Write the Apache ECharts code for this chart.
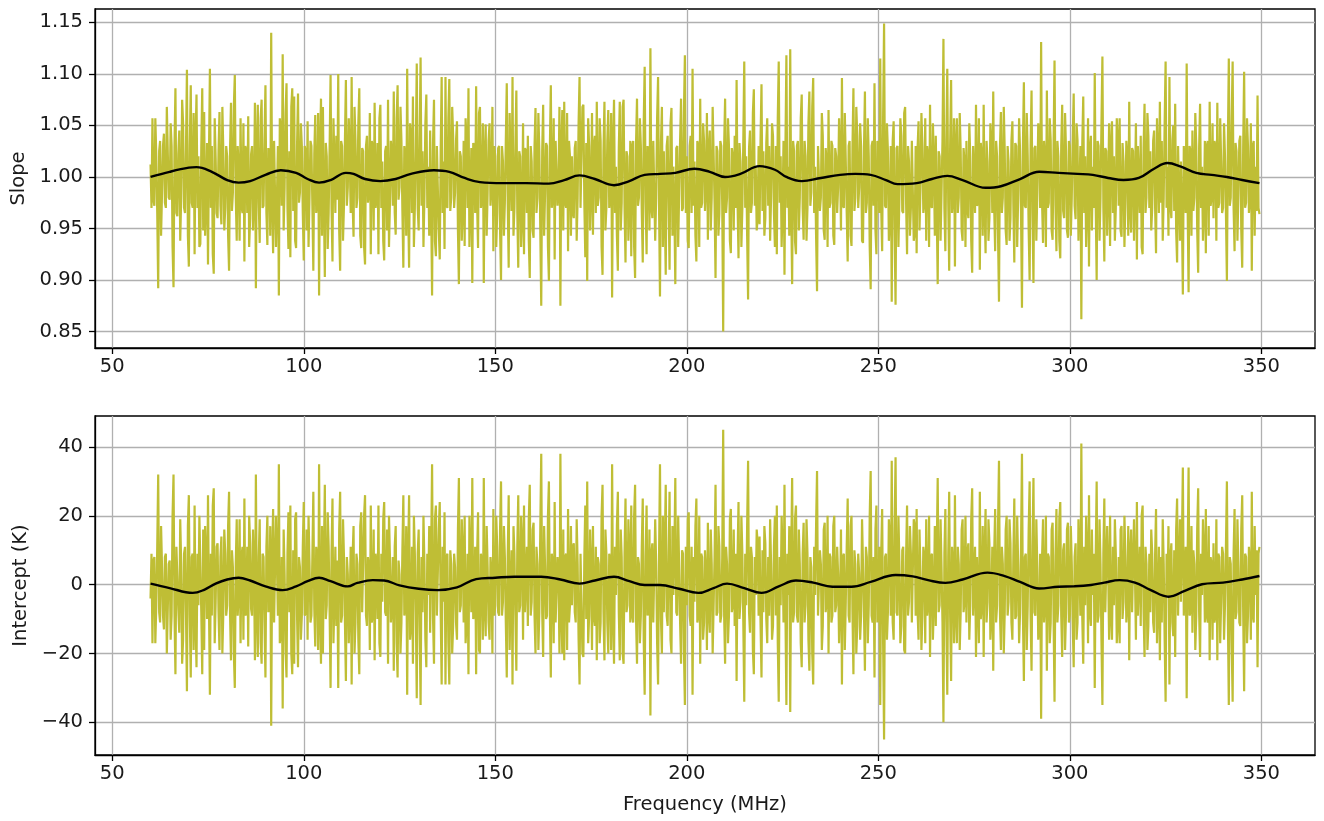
<!DOCTYPE html>
<html>
<head>
<meta charset="utf-8">
<script src="https://cdn.jsdelivr.net/npm/echarts@6/dist/echarts.min.js"></script>
<style>
html,body{margin:0;padding:0;background:#fff;}
#chart{width:1324px;height:821px;}
</style>
</head>
<body>
<div id="chart"></div>
<script>
// Frequency grid of the noisy series: samples at 60, 60.5, ... 349.5 MHz,
// plus in-between samples at 60.25, 60.75, ... 349.25 MHz
const freqStart = 60;
const freqStep = 0.5;

// Slope values at the main samples
const slopeValues = [
1.012,1.057,0.972,1.020,0.892,1.035,0.985,1.042,0.970,1.068,0.978,1.030,0.893,1.086,0.962,1.045,0.980,1.052,0.965,1.104,
0.913,1.089,0.970,0.925,1.080,1.020,0.935,1.086,1.063,0.975,0.915,1.105,1.030,0.906,1.018,0.960,1.063,0.954,1.025,0.970,
1.020,0.909,1.072,0.985,1.099,0.938,1.010,1.057,0.965,0.918,1.025,1.059,0.960,1.030,0.980,0.892,1.070,0.936,1.075,0.972,
1.089,0.934,1.020,1.140,0.926,1.035,0.980,0.885,1.045,1.119,0.990,1.091,0.930,0.922,1.086,1.078,0.931,1.081,0.985,1.030,
0.919,1.025,1.054,0.980,1.030,0.909,1.060,0.975,0.885,1.076,1.068,0.903,1.020,0.965,1.099,0.918,1.015,1.040,1.100,0.909,
1.030,0.973,1.094,0.990,1.020,1.097,0.942,1.035,0.980,1.086,0.931,1.025,0.915,1.040,0.985,0.925,1.030,1.072,0.980,0.925,
1.070,1.015,0.919,1.030,1.075,0.975,1.020,1.083,0.944,1.089,0.990,1.035,0.912,1.020,1.105,0.912,1.040,1.078,0.970,1.110,
0.948,1.116,1.025,0.980,1.080,1.010,1.045,0.885,1.075,0.923,1.030,0.920,1.097,1.015,1.097,0.970,1.095,0.980,1.040,0.985,
1.054,0.896,1.020,0.970,0.933,1.035,1.086,0.975,0.897,1.030,1.088,0.931,1.068,0.980,0.897,1.051,0.985,1.052,0.990,0.928,
1.020,0.965,1.030,0.900,1.015,0.975,1.091,0.912,1.010,1.097,0.970,1.084,0.912,1.020,0.960,0.925,1.025,1.040,0.902,1.015,
0.941,1.067,0.980,1.025,0.875,1.070,0.985,1.030,0.899,1.089,0.980,0.920,1.035,0.990,0.875,1.065,1.073,0.970,0.928,1.020,
1.020,0.960,1.035,0.980,1.097,0.970,1.070,0.922,0.899,1.030,0.985,0.944,1.040,1.073,0.980,1.035,0.905,1.073,0.970,1.065,
0.980,0.883,1.075,1.010,0.909,1.073,0.975,1.075,0.917,1.020,0.970,0.923,1.035,0.902,1.076,0.980,1.030,0.917,1.107,0.925,
1.020,1.125,0.960,1.035,0.980,1.097,0.884,1.068,1.025,0.905,1.040,0.910,1.067,1.010,0.896,1.030,0.985,1.076,0.970,1.118,
1.020,0.931,1.040,1.105,1.015,0.918,1.030,1.076,0.975,1.035,0.990,0.939,1.045,0.980,1.068,0.902,1.025,0.965,1.030,0.850,
1.076,0.980,1.030,0.926,1.020,1.040,1.094,0.921,1.015,0.970,1.112,1.020,0.881,1.045,0.975,1.085,1.010,0.960,0.954,1.090,
1.025,0.960,1.057,1.030,0.980,1.040,0.932,0.925,1.112,1.020,0.970,0.905,1.118,1.010,1.124,0.896,1.025,0.925,1.035,0.980,
1.080,0.939,1.020,0.970,1.083,0.985,1.096,1.010,0.889,1.030,0.980,1.040,0.939,1.015,1.065,0.975,1.030,0.934,1.020,0.990,
1.020,1.096,0.970,1.015,0.918,1.035,0.933,1.086,0.980,1.040,0.990,1.030,0.936,1.083,0.975,1.020,0.891,1.035,1.091,0.925,
1.020,1.115,0.928,1.149,0.970,1.025,0.960,0.879,1.054,0.876,1.030,0.980,1.040,0.965,1.068,0.925,1.015,0.970,1.035,0.945,
0.926,1.054,0.990,1.030,0.975,0.938,1.020,1.070,0.970,1.015,1.040,0.896,1.020,0.985,1.134,0.928,1.105,0.909,1.094,0.980,
0.913,1.057,0.980,1.025,0.938,1.015,1.035,0.960,1.020,0.907,1.030,1.070,0.975,0.910,1.020,1.070,0.926,1.015,0.960,1.030,
1.083,0.928,1.020,0.879,1.063,0.980,1.025,0.934,1.015,0.960,1.054,0.917,1.030,0.980,1.025,0.873,1.092,0.970,1.020,0.900,
1.084,0.897,1.030,0.985,1.040,1.131,0.936,1.020,1.084,0.975,1.035,0.939,1.113,0.928,1.020,0.921,1.070,0.960,1.025,0.941,
1.030,0.980,1.081,0.959,1.035,0.985,0.862,1.078,1.020,0.970,0.913,1.040,1.010,1.101,0.900,1.030,0.980,1.117,0.918,1.025,
0.985,0.933,1.054,1.020,0.970,1.035,1.057,0.942,1.015,0.975,1.020,1.073,0.946,1.025,0.990,0.920,1.030,1.040,0.925,1.071,
0.980,1.040,1.025,0.970,1.045,0.926,1.020,1.073,1.035,0.980,1.112,1.010,1.097,0.960,1.050,1.071,0.917,1.030,1.015,0.886,
1.030,1.110,0.888,1.025,1.045,0.980,1.030,0.907,1.071,1.010,0.970,0.926,1.035,1.073,0.980,0.960,1.030,1.072,0.975,1.015,
0.970,1.020,0.899,1.115,0.980,1.112,0.928,1.025,0.985,1.040,0.912,1.102,0.975,1.030,0.980,0.909,1.035,1.010,1.079,0.964
];
// Slope values at the in-between samples
const slopeMid = [
0.970,0.978,1.057,0.965,1.025,0.943,1.030,0.975,1.068,0.980,1.052,0.932,1.028,0.965,1.022,0.938,1.075,0.970,1.026,0.943,
1.030,0.975,1.062,1.035,0.970,0.932,1.028,0.948,0.943,1.033,1.020,0.970,0.925,1.057,0.965,1.025,0.972,1.068,0.948,1.030,
0.943,1.025,0.967,1.068,0.980,1.030,0.938,0.972,1.052,1.030,0.965,0.932,1.022,0.948,1.072,1.028,0.975,1.057,0.970,1.035,
0.965,1.028,0.943,0.975,1.035,0.932,1.030,1.057,0.972,0.948,1.062,0.970,1.025,1.068,0.967,0.938,1.030,0.975,1.052,0.965,
1.030,0.948,0.932,1.035,0.972,1.022,0.965,1.062,1.030,0.943,0.975,1.033,0.930,1.028,0.970,1.057,0.965,0.978,0.948,1.035,
0.938,1.035,0.972,1.057,0.965,0.975,1.068,0.970,1.052,0.943,1.028,0.932,1.030,0.975,1.062,1.035,0.948,0.970,1.033,1.057,
0.970,0.938,1.025,0.948,0.932,1.035,0.972,0.965,1.057,0.978,1.068,0.967,1.030,0.943,0.972,1.052,0.965,0.932,1.028,0.970,
1.035,0.972,0.932,1.052,0.970,0.943,0.975,1.033,0.938,1.030,0.948,1.025,0.965,0.930,0.972,1.057,0.967,1.068,0.970,1.035,
0.948,1.025,0.938,1.035,1.057,0.970,0.932,1.028,1.033,0.965,0.975,1.062,0.970,1.052,1.022,0.943,1.035,0.972,1.068,1.030,
0.932,1.028,0.948,1.030,0.943,1.035,0.975,1.062,0.967,0.943,1.030,0.965,1.025,0.932,1.052,1.028,0.965,0.938,1.030,0.948,
1.030,0.965,1.062,0.948,1.025,0.943,1.033,0.932,1.028,0.970,1.057,1.035,0.972,1.068,1.030,0.948,0.975,1.062,1.035,0.943,
0.965,1.028,0.938,1.052,0.970,1.068,0.975,1.033,1.057,0.948,1.062,1.030,0.965,0.972,1.057,0.932,1.025,0.948,1.035,0.970,
1.062,1.030,0.965,0.943,1.028,0.948,1.068,0.970,1.025,0.938,1.035,1.030,0.932,1.033,0.972,1.057,0.965,1.052,0.975,1.030,
0.948,0.970,1.035,0.938,1.057,0.972,1.033,0.932,0.965,1.030,0.975,1.052,0.943,0.970,1.028,0.932,1.035,0.967,1.062,0.965,
0.938,1.030,0.965,0.972,0.943,1.035,0.932,0.970,1.052,0.967,1.062,1.028,0.948,1.068,0.975,1.030,0.943,1.035,0.972,1.030,
0.965,1.057,0.938,1.028,0.948,0.970,0.975,1.033,0.932,1.035,0.970,0.943,1.028,0.965,1.062,0.972,0.948,1.030,1.035,0.967,
0.943,1.033,0.972,0.938,1.052,0.965,1.030,1.057,0.975,0.932,1.035,1.028,0.970,0.943,0.972,1.035,0.938,1.030,0.948,1.057,
0.970,1.035,0.938,1.052,0.972,1.068,0.965,0.943,1.030,0.967,1.062,0.948,1.028,0.932,0.970,1.035,0.943,1.028,0.965,1.057,
0.948,0.972,1.062,0.965,1.030,0.943,1.028,0.967,1.068,0.970,1.052,0.938,1.025,0.965,1.057,0.932,1.030,0.972,0.948,1.035,
0.965,0.970,1.057,0.972,1.052,0.938,1.030,1.035,0.948,1.028,0.932,1.057,0.967,1.062,0.975,1.030,0.943,1.035,0.938,1.030,
1.028,0.948,1.062,0.965,1.057,1.030,0.932,0.972,1.052,0.943,0.967,1.025,0.938,1.035,0.970,1.033,0.975,1.030,0.965,1.057,
1.030,0.965,1.062,0.948,1.028,0.932,0.970,1.052,0.938,1.030,0.965,0.972,1.057,1.033,0.943,0.970,1.035,0.938,1.052,0.965,
0.970,1.035,0.943,1.028,0.965,1.068,0.948,1.030,0.938,1.035,0.972,1.033,0.932,1.057,0.965,1.030,0.972,1.062,0.948,1.030,
0.965,1.028,0.938,1.052,0.970,0.975,1.035,0.932,0.970,1.057,0.948,1.030,0.972,1.035,0.938,1.030,0.967,1.062,0.948,1.035,
0.943,1.035,0.972,1.052,0.938,1.030,1.033,0.965,0.932,1.057,1.028,0.948,0.970,0.975,1.035,0.938,1.052,0.970,1.028,0.943,
1.052,1.030,0.965,0.938,1.057,0.972,0.948,1.033,0.932,1.035,0.943,0.970,1.028,0.938,1.052,1.030,0.965,0.932,1.028,0.965,
1.062,0.970,0.948,1.035,0.972,1.057,0.965,0.975,0.938,1.052,0.970,0.943,0.972,1.035,0.967,0.948,1.030,0.938,0.965,1.030,
0.965,0.972,1.030,0.943,0.967,1.062,0.948,1.028,0.970,0.938,1.035,1.030,0.943,0.972,1.052,1.035,0.938,0.970,1.057,0.965,
1.052,0.965,1.030,0.972,1.057,0.970,1.033,0.938,1.035,0.948,1.028,0.970,1.057,0.965,1.052,1.030,0.943,0.967,0.970
];

// Intercept values in K at the main samples
const interceptValues = [
-4,-17,8,-6,32,-11,5,-13,9,-20,7,-9,32,-26,11,-14,6,-16,11,-31,
26,-27,9,23,-24,-6,20,-26,-19,8,26,-32,-9,28,-5,12,-19,14,-8,9,
-6,27,-22,5,-30,19,-3,-17,11,25,-8,-18,12,-9,6,32,-21,19,-23,8,
-27,20,-6,-41,22,-11,6,35,-14,-36,3,-27,21,23,-26,-23,21,-24,5,-9,
24,-8,-16,6,-9,27,-18,8,35,-23,-20,29,-6,11,-30,25,-5,-12,-30,27,
-9,8,-28,3,-6,-29,17,-11,6,-26,21,-8,26,-12,5,23,-9,-22,6,23,
-21,-5,24,-9,-23,8,-6,-25,17,-27,3,-11,26,-6,-32,26,-12,-23,9,-33,
16,-35,-8,6,-24,-3,-14,35,-23,23,-9,24,-29,-5,-29,9,-29,6,-12,5,
-16,31,-6,9,20,-11,-26,8,31,-9,-26,21,-20,6,31,-15,5,-16,3,22,
-6,11,-9,30,-5,8,-27,26,-3,-29,9,-25,26,-6,12,23,-8,-12,29,-5,
18,-20,6,-8,38,-21,5,-9,30,-27,6,24,-11,3,38,-20,-22,9,22,-6,
-6,12,-11,6,-29,9,-21,23,30,-9,5,17,-12,-22,6,-11,29,-22,9,-20,
6,35,-23,-3,27,-22,8,-23,25,-6,9,23,-11,29,-23,6,-9,25,-32,23,
-6,-38,12,-11,6,-29,35,-20,-8,29,-12,27,-20,-3,31,-9,5,-23,9,-35,
-6,21,-12,-32,-5,25,-9,-23,8,-11,3,18,-14,6,-20,29,-8,11,-9,45,
-23,6,-9,22,-6,-12,-28,24,-5,9,-34,-6,36,-14,8,-26,-3,12,14,-27,
-8,12,-17,-9,6,-12,20,23,-34,-6,9,29,-35,-3,-37,31,-8,23,-11,6,
-24,18,-6,9,-25,5,-29,-3,33,-9,6,-12,18,-5,-20,8,-9,20,-6,3,
-6,-29,9,-5,25,-11,20,-26,6,-12,3,-9,19,-25,8,-6,33,-11,-27,23,
-6,-35,22,-45,9,-8,12,36,-16,37,-9,6,-12,11,-20,23,-5,9,-11,17,
22,-16,3,-9,8,19,-6,-21,9,-5,-12,31,-6,5,-40,22,-32,27,-28,6,
26,-17,6,-8,19,-5,-11,12,-6,28,-9,-21,8,27,-6,-21,22,-5,12,-9,
-25,22,-6,36,-19,6,-8,20,-5,12,-16,25,-9,6,-8,38,-28,9,-6,30,
-25,31,-9,5,-12,-39,19,-6,-25,8,-11,18,-34,22,-6,24,-21,12,-8,18,
-9,6,-24,12,-11,5,41,-23,-6,9,26,-12,-3,-30,30,-9,6,-35,25,-8,
5,20,-16,-6,9,-11,-17,17,-5,8,-6,-22,16,-8,3,24,-9,-12,23,-21,
6,-12,-8,9,-14,22,-6,-22,-11,6,-34,-3,-29,12,-15,-21,25,-9,-5,34,
-9,-33,34,-8,-14,6,-9,28,-21,-3,9,22,-11,-22,6,12,-9,-22,8,-5,
9,-6,30,-35,6,-34,22,-8,5,-12,26,-31,8,-9,6,27,-11,-3,-24,11
];
// Intercept values in K at the in-between samples
const interceptMid = [
9,7,-17,11,-8,17,-9,8,-20,6,-16,20,-8,11,-7,19,-23,9,-8,17,
-9,8,-19,-11,9,20,-8,16,17,-10,-6,9,23,-17,11,-8,8,-20,16,-9,
17,-8,10,-20,6,-9,19,8,-16,-9,11,20,-7,16,-22,-8,8,-17,9,-11,
11,-8,17,8,-11,20,-9,-17,8,16,-19,9,-8,-20,10,19,-9,8,-16,11,
-9,16,20,-11,8,-7,11,-19,-9,17,8,-10,21,-8,9,-17,11,7,16,-11,
19,-11,8,-17,11,8,-20,9,-16,17,-8,20,-9,8,-19,-11,16,9,-10,-17,
9,19,-8,16,20,-11,8,11,-17,7,-20,10,-9,17,8,-16,11,20,-8,9,
-11,8,20,-16,9,17,8,-10,19,-9,16,-8,11,21,8,-17,10,-20,9,-11,
16,-8,19,-11,-17,9,20,-8,-10,11,8,-19,9,-16,-7,17,-11,8,-20,-9,
20,-8,16,-9,17,-11,8,-19,10,17,-9,11,-8,20,-16,-8,11,19,-9,16,
-9,11,-19,16,-8,17,-10,20,-8,9,-17,-11,8,-20,-9,16,8,-19,-11,17,
11,-8,19,-16,9,-20,8,-10,-17,16,-19,-9,11,8,-17,20,-8,16,-11,9,
-19,-9,11,17,-8,16,-20,9,-8,19,-11,-9,20,-10,8,-17,11,-16,8,-9,
16,9,-11,19,-17,8,-10,20,11,-9,8,-16,17,9,-8,20,-11,10,-19,11,
19,-9,11,8,17,-11,20,9,-16,10,-19,-8,16,-20,8,-9,17,-11,8,-9,
11,-17,19,-8,16,9,8,-10,20,-11,9,17,-8,11,-19,8,16,-9,-11,10,
17,-10,8,19,-16,11,-9,-17,8,20,-11,-8,9,17,8,-11,19,-9,16,-17,
9,-11,19,-16,8,-20,11,17,-9,10,-19,16,-8,20,9,-11,17,-8,11,-17,
16,8,-19,11,-9,17,-8,10,-20,9,-16,19,-8,11,-17,20,-9,8,16,-11,
11,9,-17,8,-16,19,-9,-11,16,-8,20,-17,10,-19,8,-9,17,-11,19,-9,
-8,16,-19,11,-17,-9,20,8,-16,17,10,-8,19,-11,9,-10,8,-9,11,-17,
-9,11,-19,16,-8,20,9,-16,19,-9,11,8,-17,-10,17,9,-11,19,-16,11,
9,-11,17,-8,11,-20,16,-9,19,-11,8,-10,20,-17,11,-9,8,-19,16,-9,
11,-8,19,-16,9,8,-11,20,9,-17,16,-9,8,-11,19,-9,10,-19,16,-11,
17,-11,8,-16,19,-9,-10,11,20,-17,-8,16,9,8,-11,19,-16,9,-8,17,
-16,-9,11,19,-17,8,16,-10,20,-11,17,9,-8,19,-16,-9,11,20,-8,11,
-19,9,16,-11,8,-17,11,8,19,-16,9,17,8,-11,10,16,-9,19,11,-9,
11,8,-9,17,10,-19,16,-8,9,19,-11,-9,17,8,-16,-11,19,9,-17,11,
-16,11,-9,8,-17,9,-10,19,-11,16,-8,9,-17,11,-16,-9,17,10,9
];

// Smooth fitted curves
const smoothFreqTop = [60,65,70,72,76,80,83,86,90,94,98,101,104,107,111,113,116,120,124,128,134,138,142,146,152,158,164,168,172,176,181,185,189,193,197,202,206,210,214,219,223,226,230,235,240,244,248,252,255,260,264,268,272,278,282,287,292,297,302,306,310,314,318,322,325.5,329,333,337,341,345,349.5];
const slopeSmooth = [1.000,1.005,1.009,1.0095,1.005,0.997,0.9945,0.996,1.002,1.0065,1.004,0.998,0.9945,0.997,1.004,1.003,0.998,0.996,0.998,1.003,1.0065,1.005,0.999,0.995,0.994,0.994,0.9935,0.997,1.0015,0.998,0.992,0.996,1.002,1.003,1.004,1.008,1.005,1.000,1.003,1.0105,1.007,1.000,0.996,0.999,1.002,1.003,1.002,0.997,0.993,0.994,0.998,1.001,0.997,0.9895,0.991,0.998,1.005,1.004,1.003,1.002,0.999,0.997,0.999,1.008,1.0135,1.010,1.004,1.002,1.000,0.997,0.994];

const smoothFreqBottom = [60,65,71,74,77,80,83,86,90,94.5,98,101,104,107,111.5,114,118,121,125,130,135,140,145,150,155,162,167,172,176,181,185,189,193,198,203,207,210.5,215,219.5,224,228.5,233,238,243,248,254.5,259,263,267.5,272,278.5,283,287,292,297,301,305.5,309,313,317,321,325.8,330,334.5,340,345,349.5];
const interceptSmooth = [0.3,-1.0,-2.4,-1.5,0.3,1.5,2.0,1.2,-0.5,-1.6,-0.5,1.0,2.0,1.0,-0.5,0.5,1.3,1.2,-0.2,-1.2,-1.6,-0.8,1.6,2.0,2.3,2.3,1.5,0.3,1.2,2.3,1.0,-0.1,-0.1,-1.2,-2.4,-1.0,0.3,-1.0,-2.4,-0.5,1.2,0.6,-0.6,-0.6,0.8,2.8,2.4,1.3,0.5,1.5,3.5,2.5,0.8,-1.1,-0.6,-0.5,-0.1,0.6,1.3,0.6,-1.5,-3.5,-1.8,0.1,0.6,1.5,2.5];

// Tick values
const xTicks = [50,100,150,200,250,300,350];
const slopeTicks = [0.85,0.90,0.95,1.00,1.05,1.10,1.15];
const interceptTicks = [-40,-20,0,20,40];

function buildNoisy(mainVals, midVals) {
  const out = [];
  for (let i = 0; i < mainVals.length; i++) {
    out.push([freqStart + freqStep * i, mainVals[i]]);
    if (i < midVals.length) out.push([freqStart + freqStep * i + freqStep / 2, midVals[i]]);
  }
  return out;
}
const pair = (xs, ys) => ys.map((y, i) => [xs[i], y]);

const FONT = 'DejaVu Sans';
const FS = 19.5;
const TXT = '#1a1a1a';
const OLIVE = '#bfbe35';

function xAxisCfg(gridIndex, withName) {
  return {
    type: 'value', gridIndex,
    min: 45.5, max: 364,
    axisLine: {show: true, onZero: false, lineStyle: {color: '#000', width: 1.3}},
    axisTick: {show: true, length: 6, customValues: xTicks, lineStyle: {color: '#000', width: 1.3}},
    axisLabel: {customValues: xTicks, fontFamily: FONT, fontSize: FS, color: TXT, margin: 9},
    splitLine: {show: true, lineStyle: {color: '#b0b0b0', width: 1.3}},
    name: withName ? 'Frequency (MHz)' : '',
    nameLocation: 'middle', nameGap: 40,
    nameTextStyle: {fontFamily: FONT, fontSize: FS, color: TXT}
  };
}
function yAxisCfg(gridIndex, min, max, ticks, name, gap, fmt) {
  return {
    type: 'value', gridIndex, min, max,
    axisLine: {show: true, onZero: false, lineStyle: {color: '#000', width: 1.3}},
    axisTick: {show: true, length: 6, customValues: ticks, lineStyle: {color: '#000', width: 1.3}},
    axisLabel: {customValues: ticks, fontFamily: FONT, fontSize: FS, color: TXT, margin: 12, formatter: fmt},
    splitLine: {show: true, lineStyle: {color: '#b0b0b0', width: 1.3}},
    name, nameLocation: 'middle', nameRotate: 90, nameGap: gap,
    nameTextStyle: {fontFamily: FONT, fontSize: FS, color: TXT}
  };
}

const chart = echarts.init(document.getElementById('chart'), null, {renderer: 'canvas'});
chart.setOption({
  animation: false,
  backgroundColor: '#fff',
  grid: [
    {left: 95, right: 9, top: 9, height: 339, show: true, borderColor: '#000', borderWidth: 1.3, containLabel: false},
    {left: 95, right: 9, top: 416, height: 339, show: true, borderColor: '#000', borderWidth: 1.3, containLabel: false}
  ],
  xAxis: [xAxisCfg(0, false), xAxisCfg(1, true)],
  yAxis: [
    yAxisCfg(0, 0.834, 1.163, slopeTicks, 'Slope', 66, v => v.toFixed(2)),
    yAxisCfg(1, -49.5, 49, interceptTicks, 'Intercept (K)', 62, v => (v < 0 ? '\u2212' + Math.abs(v) : String(v)))
  ],
  series: [
    {type: 'line', xAxisIndex: 0, yAxisIndex: 0, data: buildNoisy(slopeValues, slopeMid), showSymbol: false, sampling: false,
     lineStyle: {color: OLIVE, width: 2.2}, itemStyle: {color: OLIVE}, z: 2},
    {type: 'line', xAxisIndex: 0, yAxisIndex: 0, data: pair(smoothFreqTop, slopeSmooth), showSymbol: false, smooth: 0.4,
     lineStyle: {color: '#000', width: 2.4}, itemStyle: {color: '#000'}, z: 3},
    {type: 'line', xAxisIndex: 1, yAxisIndex: 1, data: buildNoisy(interceptValues, interceptMid), showSymbol: false, sampling: false,
     lineStyle: {color: OLIVE, width: 2.2}, itemStyle: {color: OLIVE}, z: 2},
    {type: 'line', xAxisIndex: 1, yAxisIndex: 1, data: pair(smoothFreqBottom, interceptSmooth), showSymbol: false, smooth: 0.4,
     lineStyle: {color: '#000', width: 2.4}, itemStyle: {color: '#000'}, z: 3}
  ]
});
</script>
</body>
</html>
